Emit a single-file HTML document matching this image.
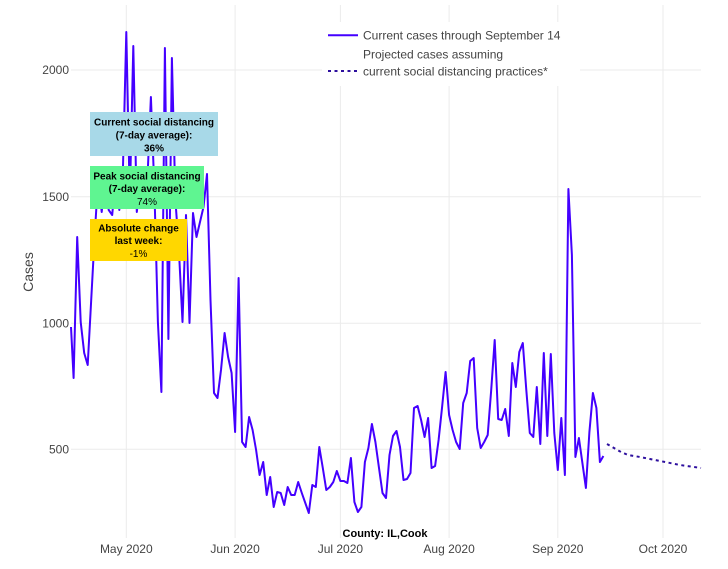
<!DOCTYPE html>
<html><head><meta charset="utf-8"><style>
html,body{margin:0;padding:0;background:#fff;}
svg{display:block;}
text{font-family:"Liberation Sans",Arial,sans-serif;}
</style></head><body>
<svg width="728" height="569" viewBox="0 0 728 569" xmlns="http://www.w3.org/2000/svg">
<rect width="728" height="569" fill="#fff"/>
<g stroke="#ebebeb" stroke-width="1">
<line x1="126.3" y1="5" x2="126.3" y2="538"/>
<line x1="235.1" y1="5" x2="235.1" y2="538"/>
<line x1="340.4" y1="5" x2="340.4" y2="538"/>
<line x1="449.1" y1="5" x2="449.1" y2="538"/>
<line x1="557.8" y1="5" x2="557.8" y2="538"/>
<line x1="663" y1="5" x2="663" y2="538"/>
<line x1="71" y1="70" x2="701" y2="70"/>
<line x1="71" y1="196.7" x2="701" y2="196.7"/>
<line x1="71" y1="323.3" x2="701" y2="323.3"/>
<line x1="71" y1="449.3" x2="701" y2="449.3"/>
</g>
<g font-size="12" fill="#444" text-anchor="end">
<text x="69" y="74">2000</text>
<text x="69" y="201">1500</text>
<text x="69" y="327.5">1000</text>
<text x="69" y="453.5">500</text>
</g>
<g font-size="12" fill="#444" text-anchor="middle">
<text x="126.3" y="553">May 2020</text>
<text x="235.1" y="553">Jun 2020</text>
<text x="340.4" y="553">Jul 2020</text>
<text x="449.1" y="553">Aug 2020</text>
<text x="557.8" y="553">Sep 2020</text>
<text x="663" y="553">Oct 2020</text>
</g>
<text x="0" y="0" font-size="14" fill="#444" text-anchor="middle" transform="translate(33,272) rotate(-90)">Cases</text>
<text x="385" y="537" font-size="11" font-weight="bold" fill="#000" text-anchor="middle">County: IL,Cook</text>

<polyline fill="none" stroke="#4400ff" stroke-width="2" stroke-linejoin="round" points="
71,327 73.6,378 77.2,237 80.7,322 84.2,353 87.7,365 91.2,300 94.7,235 98.2,178 101.7,212 105.2,178 108.7,210 112.2,215 115.8,175 119.3,210 122.8,175 126.3,32 129.8,200 133.3,46 136.8,212 140.3,180 143.9,205 147.4,180 150.9,97 154.4,190 157.9,322 161.4,392 164.9,48 168.4,339 171.9,58 175.4,200 178.9,250 182.5,322 186,215 189.5,323 193,213 196.5,237 200,222 203.5,207 207,174 210.5,300 214,393 217.5,398 221,370 224.6,333 228.1,357 231.6,373 235.1,432 238.6,278 242.1,442 245.6,447 249.1,417 252.6,430 256.1,450 259.6,475 263.2,462 266.7,495 270.2,477 273.7,507 277.2,492 280.7,493 284.2,505 287.7,487 291.2,495 294.7,495 298.2,482 301.8,493 305.3,503 308.8,513 312.3,485 315.8,487 319.3,447 322.8,468 326.3,490 329.8,487 333.3,482 336.8,471 340.4,481 343.9,481 347.4,483 350.9,458 354.4,502 357.9,512 361.4,507 364.9,462 368.4,448 371.9,424 375.4,442 379,468 382.5,493 386,498 389.5,455 393,436 396.5,431 400,447 403.5,480 407,479 410.5,473 414,408 417.6,406 421.1,420 424.6,437 428.1,418 431.6,468 435.1,466 438.6,440 442.1,407 445.6,372 449.1,415 452.6,430 456.1,442 459.7,449 463.2,403 466.7,393 470.2,361 473.7,358 477.2,428 480.7,448 484.2,442 487.7,435 491.2,390 494.7,340 498.2,419 501.7,420 505.2,409 508.8,436 512.3,363 515.8,387 519.3,352 522.8,343 526.3,390 529.8,433 533.3,437 536.8,387 540.3,444 543.8,353 547.3,436 550.8,354 554.3,433 557.8,470 561.3,418 564.9,475 568.4,189 571.9,255 575.4,457 578.9,438 582.4,463 585.9,488 589.4,432 592.9,393 596.4,408 599.9,462 603.4,456"/>

<polyline fill="none" stroke="#2d0f9e" stroke-width="2" stroke-dasharray="3,3.5" points="607,444 614,448 621,452 628,455 640,457 660,461 680,465 701,468"/>

<rect x="90" y="112" width="128" height="44" fill="#a8d9e8"/>
<rect x="90" y="166" width="114" height="43" fill="#5ff591"/>
<rect x="90" y="219" width="97" height="42" fill="#ffd700"/>
<g font-size="10" fill="#000" text-anchor="middle">
<text x="154" y="125.5" font-weight="bold">Current social distancing</text>
<text x="154" y="138.5" font-weight="bold">(7-day average):</text>
<text x="154" y="151.5" font-weight="bold">36%</text>
<text x="147" y="179.5" font-weight="bold">Peak social distancing</text>
<text x="147" y="192" font-weight="bold">(7-day average):</text>
<text x="147" y="205">74%</text>
<text x="138.5" y="231.5" font-weight="bold">Absolute change</text>
<text x="138.5" y="244" font-weight="bold">last week:</text>
<text x="138.5" y="257">-1%</text>
</g>

<rect x="322" y="22" width="258" height="64" fill="#fff"/>
<line x1="328" y1="35.3" x2="358" y2="35.3" stroke="#4400ff" stroke-width="2"/>
<line x1="328" y1="71" x2="358" y2="71" stroke="#2d0f9e" stroke-width="2" stroke-dasharray="3,3.5"/>
<g font-size="12" fill="#444">
<text x="363" y="39.5">Current cases through September 14</text>
<text x="363" y="58.5">Projected cases assuming</text>
<text x="363" y="75.5">current social distancing practices*</text>
</g>
</svg>
</body></html>
